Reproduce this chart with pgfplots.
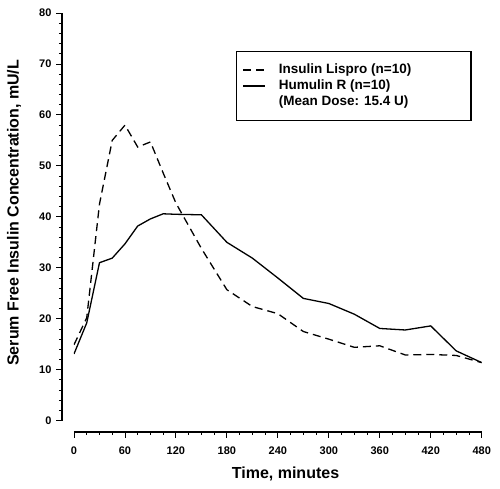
\documentclass[border=0pt]{standalone}
\usepackage{fontspec}
\setmainfont{Liberation Sans}
\usepackage{pgfplots}
\pgfplotsset{compat=1.18}
\begin{document}
\begin{tikzpicture}
\useasboundingbox (-74pt,-68.3pt) rectangle (426pt,420.7pt);
\begin{axis}[
  scale only axis, width=407.7pt, height=407.7pt,
  xmin=0, xmax=480, ymin=0, ymax=80,
  axis lines=left,
  axis line style={-, line width=1.2pt},
  axis x line shift=11.3pt, axis y line shift=12pt,
  xtick={0,60,...,480}, ytick={0,10,...,80},
  minor x tick num=3, minor y tick num=4,
  tick align=outside,
  major tick length=5.5pt, minor tick length=3pt,
  every tick/.style={black, line width=0.9pt},
  /pgf/number format/assume math mode=true,
  tick label style={font=\fontsize{11}{13}\selectfont\bfseries},
  xticklabel style={yshift=-5.5pt},
  yticklabel style={xshift=-1.5pt},
  xlabel={Time, minutes},
  ylabel={Serum Free Insulin Concentration, mU/L},
  every axis x label/.style={at={(axis description cs:0.5188,-0.1307)},anchor=center,font=\fontsize{16}{19}\selectfont\bfseries},
  every axis y label/.style={at={(axis description cs:-0.1472,0.51)},rotate=90,anchor=center,font=\fontsize{16}{19}\selectfont\bfseries},
  legend style={at={(axis description cs:0.3974,0.9068)}, anchor=north west,
    draw=black, line width=1.2pt, font=\fontsize{13.5}{16}\selectfont\bfseries,
    cells={anchor=west}, inner xsep=6pt, inner ysep=10.5pt,
    nodes={inner ysep=1.45pt, text height=10pt, text depth=3pt}},
  legend cell align=left,
  legend image code/.code={\draw[#1] (0pt,0pt) -- (22pt,0pt); \path (33pt,0pt);},
]
\addplot[black, line width=1.3pt, dash pattern=on 8pt off 5pt] coordinates {
(0,14.9) (15,20.2) (30,42.5) (45,55) (60,58) (75,53.7) (90,54.7) (105,48.6)
(120,42.7) (150,33.8) (180,25.7) (210,22.4) (240,21.0) (270,17.5) (300,16.0)
(330,14.4) (360,14.7) (390,12.9) (420,13.0) (450,12.8) (480,11.4)};
\addlegendentry{\makebox[184pt][l]{Insulin Lispro (n=10)}}
\addplot[black, line width=1.3pt] coordinates {
(0,13.1) (15,19.2) (30,31.0) (45,31.9) (60,34.7) (75,38.2) (90,39.6) (105,40.6)
(120,40.5) (150,40.4) (180,35.0) (210,31.9) (240,28.0) (270,24.0) (300,23.0)
(330,20.9) (360,18.1) (390,17.8) (420,18.6) (450,13.7) (480,11.4)};
\addlegendentry{Humulin R (n=10)}
\addlegendimage{empty legend}
\addlegendentry{(Mean Dose: 15.4 U)}
\end{axis}
\end{tikzpicture}
\end{document}
